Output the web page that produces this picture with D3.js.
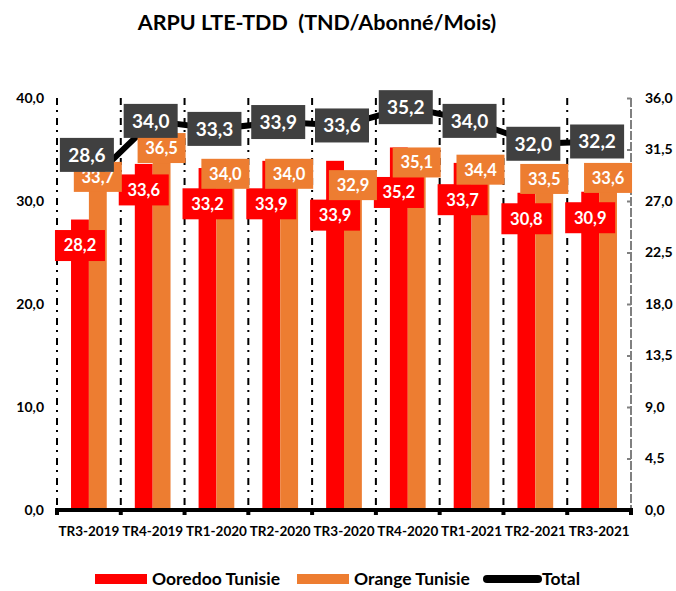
<!DOCTYPE html>
<html>
<head>
<meta charset="utf-8">
<style>
  body { margin: 0; background: #fff; }
  text { font-family: Lato, "Open Sans", sans-serif; font-weight: bold; }
</style>
</head>
<body>
<svg id="chart"></svg>
<script src="https://cdn.jsdelivr.net/npm/d3@7"></script>
<script>

var categories = ['TR3-2019', 'TR4-2019', 'TR1-2020', 'TR2-2020', 'TR3-2020', 'TR4-2020', 'TR1-2021', 'TR2-2021', 'TR3-2021'];
var ooredoo = [28.2, 33.6, 33.2, 33.9, 33.9, 35.2, 33.7, 30.8, 30.9];
var orange = [33.7, 36.5, 34.0, 34.0, 32.9, 35.1, 34.4, 33.5, 33.6];
var total = [28.6, 34.0, 33.3, 33.9, 33.6, 35.2, 34.0, 32.0, 32.2];
var leftTicks = [0, 10, 20, 30, 40];
var rightTicks = [0, 4.5, 9, 13.5, 18, 22.5, 27, 31.5, 36];
var seriesNames = ['Ooredoo Tunisie', 'Orange Tunisie', 'Total'];

var RED = '#ff0000', ORANGE = '#ed7d31', GREY = '#404040';

var svg = d3.select('#chart').attr('width', 676).attr('height', 591);

var plotLeft = 57, plotRight = 631, plotTop = 98, plotBottom = 510;

var x = d3.scaleBand().domain(categories).range([plotLeft, plotRight]).padding(0);
var bw = x.bandwidth();
var xs = d3.scaleBand().domain(['ooredoo', 'orange']).range([bw * 0.22, bw * 0.78]);
var y = d3.scaleLinear().domain([0, 40]).range([plotBottom, plotTop]);
var y2 = d3.scaleLinear().domain([0, 36]).range([plotBottom, plotTop]);

var fmt = function(v){ return d3.format('.1f')(v).replace('.', ','); };

// title
svg.append('text')
    .attr('x', 317).attr('y', 30)
    .attr('text-anchor', 'middle')
    .style('font-size', '21.5px')
    .style('white-space', 'pre')
    .text('ARPU LTE-TDD  (TND/Abonné/Mois)');

// dash-dot separators at category boundaries
svg.append('g').selectAll('line')
    .data(categories)
    .enter().append('line')
    .attr('x1', function(d){ return x(d); })
    .attr('x2', function(d){ return x(d); })
    .attr('y1', plotTop).attr('y2', plotBottom)
    .style('stroke', '#000')
    .style('stroke-width', 2)
    .style('stroke-dasharray', '7,5,2,6');

// bars
var g = svg.append('g');
g.selectAll('.bar-oo')
    .data(ooredoo)
    .enter().append('rect')
    .attr('x', function(d, i){ return x(categories[i]) + xs('ooredoo'); })
    .attr('y', function(d){ return y(d); })
    .attr('width', xs.bandwidth())
    .attr('height', function(d){ return y(0) - y(d); })
    .style('fill', RED);

g.selectAll('.bar-or')
    .data(orange)
    .enter().append('rect')
    .attr('x', function(d, i){ return x(categories[i]) + xs('orange'); })
    .attr('y', function(d){ return y(d); })
    .attr('width', xs.bandwidth())
    .attr('height', function(d){ return y(0) - y(d); })
    .style('fill', ORANGE);

// left axis labels
svg.append('g').selectAll('text')
    .data(leftTicks)
    .enter().append('text')
    .attr('x', 44)
    .attr('y', function(d){ return y(d) + 5; })
    .attr('text-anchor', 'end')
    .style('font-size', '14px')
    .text(fmt);

// right axis
var rAxis = svg.append('g')
    .attr('transform', 'translate(' + plotRight + ',0)')
    .call(d3.axisRight(y2).tickValues(rightTicks).tickSize(-4).tickPadding(14).tickFormat(fmt));
rAxis.select('.domain')
    .attr('d', 'M0,' + plotTop + 'V' + plotBottom)
    .style('stroke', '#808080')
    .style('stroke-width', 2)
    .style('stroke-dasharray', '9,2');
rAxis.selectAll('.tick line').style('stroke', '#808080').style('stroke-width', 2);
rAxis.selectAll('.tick text')
    .style('font-family', 'Lato, sans-serif')
    .style('font-weight', 'bold')
    .style('font-size', '14px')
    .style('fill', '#000');

// bottom axis
var xAxis = svg.append('g')
    .attr('transform', 'translate(0,' + plotBottom + ')');
xAxis.append('line')
    .attr('x1', plotLeft - 2).attr('x2', plotRight + 2)
    .style('stroke', '#000').style('stroke-width', 4);
xAxis.selectAll('.tk')
    .data(categories.concat(['end']))
    .enter().append('rect')
    .attr('x', function(d, i){ return plotLeft + i * bw - 2; })
    .attr('y', 0).attr('width', 4).attr('height', 5)
    .style('fill', '#000');
xAxis.selectAll('.lab')
    .data(categories)
    .enter().append('text')
    .attr('x', function(d){ return x(d) + bw / 2; })
    .attr('y', 26)
    .attr('text-anchor', 'middle')
    .style('font-size', '13.5px')
    .text(function(d){ return d; });

// total line
var line = d3.line()
    .x(function(d, i){ return x(categories[i]) + bw / 2; })
    .y(function(d){ return y2(d); });
svg.append('path')
    .datum(total)
    .attr('d', line)
    .style('fill', 'none')
    .style('stroke', '#000')
    .style('stroke-width', 6);

// data labels
function box(sel, cx, cy, w, h, fill, txt, size){
    var lg = sel.append('g');
    lg.append('rect')
        .attr('x', cx - w / 2).attr('y', cy - h / 2)
        .attr('width', w).attr('height', h)
        .style('fill', fill);
    lg.append('text')
        .attr('x', cx).attr('y', cy + size * 0.36)
        .attr('text-anchor', 'middle')
        .style('font-size', size + 'px')
        .style('fill', '#fff')
        .text(txt);
}

var labels = svg.append('g');
var orCenters = orange.map(function(d){ return y(d) + 14; });

ooredoo.forEach(function(d, i){
    var cx = x(categories[i]) + xs('ooredoo') + xs.bandwidth() / 2;
    var cy = Math.max(y(d) + 26, orCenters[i] + 30);
    box(labels, cx, cy, 50, 31, RED, fmt(d), 16.5);
});
orange.forEach(function(d, i){
    var cx = x(categories[i]) + xs('orange') + xs.bandwidth() / 2;
    box(labels, cx, orCenters[i], 48, 30, ORANGE, fmt(d), 16.5);
});
total.forEach(function(d, i){
    var cx = x(categories[i]) + bw / 2 - 2;
    var cy = Math.min(y2(d), orCenters[i] - 22);
    box(labels, cx, cy, 54, 34, GREY, fmt(d), 19);
});

// legend
var leg = svg.append('g').attr('transform', 'translate(0,579)');
leg.append('rect').attr('x', 95).attr('y', -5).attr('width', 52).attr('height', 10).style('fill', RED);
leg.append('text').attr('x', 152).attr('y', 6).style('font-size', '17.5px').text(seriesNames[0]);
leg.append('rect').attr('x', 297).attr('y', -5).attr('width', 52).attr('height', 10).style('fill', ORANGE);
leg.append('text').attr('x', 354).attr('y', 6).style('font-size', '17.5px').text(seriesNames[1]);
leg.append('line').attr('x1', 487).attr('x2', 538).attr('y1', 0).attr('y2', 0)
    .style('stroke', '#000').style('stroke-width', 8).style('stroke-linecap', 'round');
leg.append('text').attr('x', 542).attr('y', 6).style('font-size', '17.5px').text(seriesNames[2]);

</script>
</body>
</html>
